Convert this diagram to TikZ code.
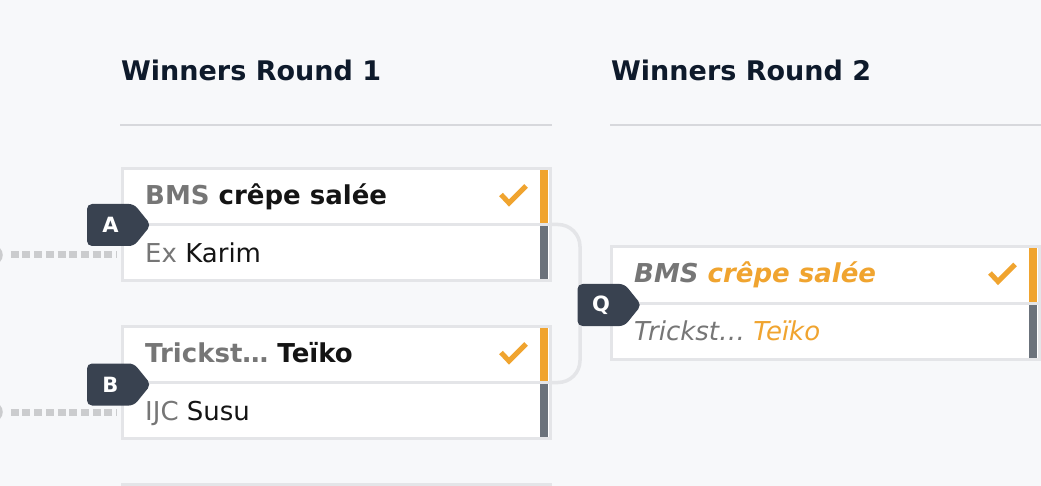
\documentclass[tikz,border=0pt]{standalone}
\usepackage{fontspec}
\setmainfont{DejaVu Sans}[ItalicFont={DejaVu Sans Oblique},BoldItalicFont={DejaVu Sans Bold Oblique}]
\usetikzlibrary{shapes.symbols}
\definecolor{pagebg}{HTML}{F7F8FA}
\definecolor{boxline}{HTML}{E4E5E8}
\definecolor{ruleline}{HTML}{D7D8DC}
\definecolor{win}{HTML}{F0A42F}
\definecolor{lose}{HTML}{6B727B}
\definecolor{slate}{HTML}{394250}
\definecolor{ink}{HTML}{0E1A2B}
\definecolor{seed}{HTML}{767676}
\definecolor{dotgray}{HTML}{CBCCCE}
\definecolor{name}{HTML}{141414}

\begin{document}
\begin{tikzpicture}
    [x=1pt,y=-1pt,
     head/.style={anchor=base west,inner sep=0,text=ink,font=\fontsize{27}{32}\selectfont\bfseries},
     team/.style={anchor=base west,inner sep=0,text=name,font=\fontsize{26}{30}\selectfont},
     winner/.style={team,font=\fontsize{26}{30}\selectfont\bfseries},
     final/.style={team,font=\fontsize{26}{30}\selectfont\itshape},
     row/.style={draw=boxline,line width=3,fill=white,minimum width=428,minimum height=56,inner sep=0,outer sep=0},
     tag/.style={shape=signal,signal to=east,signal pointer angle=102,fill=slate,text=white,rounded corners=5,
                 minimum width=64,minimum height=42,inner sep=0,font=\fontsize{21}{24}\selectfont\bfseries},
     checkmark/.style={win,line width=5},
     feed/.style={dotgray,line width=7,dash pattern=on 8 off 3.7,shorten <=8,shorten >=5},
     port/.style={circle,draw=dotgray,line width=2.5,minimum size=17,inner sep=0},
     bracket/.style={boxline,line width=3.5,rounded corners=22}]

    \fill[pagebg] (0,0) rectangle (1041,486);
    \useasboundingbox (0,0) rectangle (1041,486);

    % round headers
    \node[head] (r1) at (121,81) {Winners Round 1};
    \node[head] (r2) at (611,81) {Winners Round 2};
    \draw[ruleline,line width=2.5] (120,125) -- (552,125);
    \draw[ruleline,line width=2.5] (610,125) -- (1041,125);

    % match rows
    \node[row] (a1) at (336,196.5) {};
    \node[row] (a2) at (336,252.5) {};
    \node[row] (b1) at (336,354.5) {};
    \node[row] (b2) at (336,410.5) {};
    \node[row] (q1) at (825,275) {};
    \node[row] (q2) at (825,331) {};
    \node[row] (c1) at (336,512) {};

    \foreach \r in {a1,b1,q1}
        \fill[win] ([shift={(-10,1.5)}]\r.north east) rectangle ([shift={(-2,-1.5)}]\r.south east);
    \foreach \r in {a2,b2,q2}
        \fill[lose] ([shift={(-10,1.5)}]\r.north east) rectangle ([shift={(-2,-1.5)}]\r.south east);
    \foreach \r in {a1,b1,q1}
        \draw[checkmark] ([shift={(-49,-2)}]\r.east) -- ++(8,8.5) -- ++(17,-17);

    % team names
    \node[winner] (ta1) at (145,205) {\textcolor{seed}{BMS} crêpe salée};
    \node[team]   (ta2) at (145,263) {\textcolor{seed}{Ex} Karim};
    \node[winner] (tb1) at (145,362) {\textcolor{seed}{Trickst…} Teïko};
    \node[team]   (tb2) at (145,420) {\textcolor{seed}{IJC} Susu};
    \node[final]  (tq1) at (634,283) {\bfseries\textcolor{seed}{BMS} \textcolor{win}{crêpe salée}};
    \node[final]  (tq2) at (634,340) {\textcolor{seed}{Trickst…} \textcolor{win}{Teïko}};

    % connectors
    \node[port] (inA) at (-7,255) {};
    \node[port] (inB) at (-7,412) {};
    \draw[feed] (inA) -- (inA -| a2.west);
    \draw[feed] (inB) -- (inB -| b2.west);
    \draw[bracket] (a1.south east) -- ++(30,0) |- (b1.south east);

    % match tags
    \node[tag] (tA) at (110.5,225) {A};
    \node[tag] (tB) at (110.5,384.5) {B};
    \node[tag] (tQ) at (601,305) {Q};

\end{tikzpicture}
\end{document}
